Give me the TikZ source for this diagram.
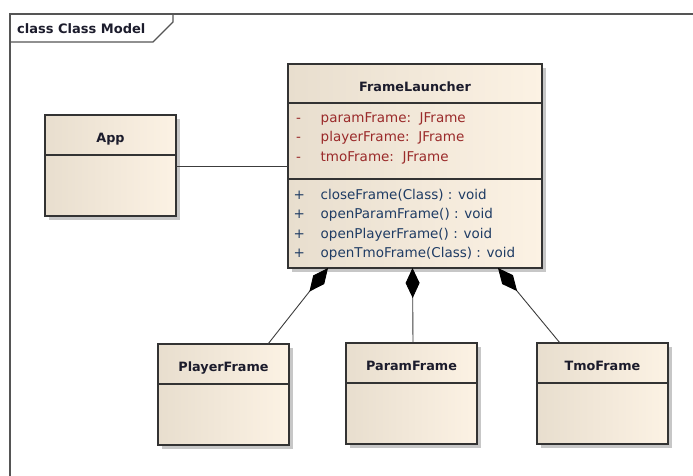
\documentclass[tikz,border=0pt]{standalone}
\usepackage{fontspec}
\setmainfont{DejaVu Sans}
\usepackage{xcolor}
\definecolor{FrameGrey}{HTML}{555555}
\definecolor{BoxGrey}{HTML}{333333}
\definecolor{LineGrey}{HTML}{3C3C3C}
\definecolor{FillLeft}{HTML}{E8DECE}
\definecolor{FillRight}{HTML}{FCF2E4}
\definecolor{AttrRed}{HTML}{9A2A2A}
\definecolor{OpBlue}{HTML}{1F3C64}
\definecolor{NameInk}{HTML}{1C1C2C}
\usepackage{tikz}
\usetikzlibrary{arrows.meta,shadows,positioning}
\newcommand\ClassWidth{131pt}
\newcommand\HeadHeight{40pt}
\newcommand\BodyHeight{61pt}
\newcommand\Priv{\makebox[24.5pt][l]{-}}
\newcommand\Pub{\makebox[24.5pt][l]{\hspace{-2.5pt}+}}
\tikzstyle{box}=[rectangle,draw=BoxGrey,line width=1.2pt,outer sep=0pt,inner sep=0pt,
                 left color=FillLeft,right color=FillRight,
                 drop shadow={shadow xshift=4pt,shadow yshift=-4pt,fill=black!22,opacity=1}]
\tikzstyle{head}=[box,font=\fontsize{12.8}{15}\selectfont\bfseries,text=NameInk,
                  text height=15pt,text depth=0pt]
\tikzstyle{members}=[inner sep=0pt,align=left,font=\fontsize{13.5}{19.5}\selectfont]
\tikzstyle{frameline}=[draw=FrameGrey,line width=1.2pt]
\tikzstyle{assoc}=[draw=LineGrey,line width=0.9pt]
\tikzstyle{comp}=[draw=LineGrey,line width=0.9pt,-{Diamond[length=30pt,width=14pt,color=black]}]

\begin{document}
\begin{tikzpicture}[x=1pt,y=-1pt]
      \useasboundingbox (0,0) rectangle (693,475);
      % package frame
      \draw[frameline] (693,14) -- (10,14) -- (10,476);
      \draw[frameline] (10,42) -- (153,42) -- (173,22) -- (173,14);
      \node[anchor=base west,inner sep=0pt,text=NameInk,
            font=\fontsize{13}{15}\selectfont\bfseries] (frameTitle) at (17,33) {class Class Model};
      % classes
      \node[head,minimum width=\ClassWidth,minimum height=\HeadHeight] (appHead) at (110.5,135) {App};
      \node[box,minimum width=\ClassWidth,minimum height=\BodyHeight] (appBody) [below=0pt of appHead] {};
      \node[head,minimum width=254pt,minimum height=39pt] (flHead) at (415,83.5) {FrameLauncher};
      \node[box,minimum width=254pt,minimum height=76pt] (flAttrs) [below=0pt of flHead] {};
      \node[box,minimum width=254pt,minimum height=89pt] (flOps) [below=0pt of flAttrs] {};
      \node[members,text=AttrRed,anchor=north west] (flAttrsText) at ([xshift=8pt,yshift=-9pt]flAttrs.north west)
            {\Priv paramFrame:~~JFrame\\ \Priv playerFrame:~~JFrame\\ \Priv tmoFrame:~~JFrame};
      \node[members,text=OpBlue,anchor=north west] (flOpsText) at ([xshift=8pt,yshift=-10pt]flOps.north west)
            {\Pub closeFrame(Class) : void\\ \Pub openParamFrame() : void\\ \Pub openPlayerFrame() : void\\ \Pub openTmoFrame(Class) : void};
      \node[head,minimum width=\ClassWidth,minimum height=\HeadHeight] (playerHead) at (223.5,364) {PlayerFrame};
      \node[box,minimum width=\ClassWidth,minimum height=\BodyHeight] (playerBody) [below=0pt of playerHead] {};
      \node[head,minimum width=\ClassWidth,minimum height=\HeadHeight] (paramHead) at (411.5,363) {ParamFrame};
      \node[box,minimum width=\ClassWidth,minimum height=\BodyHeight] (paramBody) [below=0pt of paramHead] {};
      \node[head,minimum width=\ClassWidth,minimum height=\HeadHeight] (tmoHead) at (602.5,363) {TmoFrame};
      \node[box,minimum width=\ClassWidth,minimum height=\BodyHeight] (tmoBody) [below=0pt of tmoHead] {};
      % relations
      \coordinate (appLink) at ([yshift=-11.7pt]appBody.north east);
      \draw[assoc] (appLink) -- (appLink -| flAttrs.west);
      \draw[comp] ([xshift=110pt]playerHead.north west) -- ([xshift=40pt]flOps.south west);
      \draw[comp] ([xshift=67pt]paramHead.north west) -- ([xshift=124.5pt]flOps.south west);
      \draw[comp] ([xshift=23pt]tmoHead.north west) -- ([xshift=-44pt]flOps.south east);
\end{tikzpicture}
\end{document}
